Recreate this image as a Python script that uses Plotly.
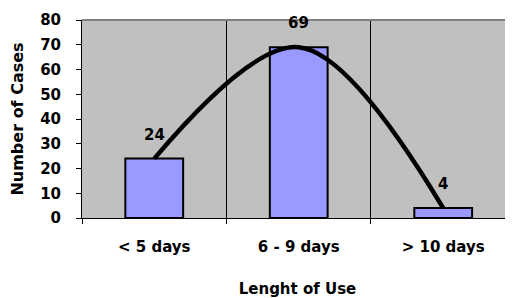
import plotly.graph_objects as go

categories = ["< 5 days", "6 - 9 days", "> 10 days"]
cases = [24, 69, 4]
y_ticks = [0, 10, 20, 30, 40, 50, 60, 70, 80]

FONT = "DejaVu Sans"
FS = 15

fig = go.Figure()
fig.add_trace(go.Bar(
    x=categories, y=cases, width=0.4,
    marker=dict(color="#9999FF", line=dict(color="black", width=2)),
    hoverinfo="skip",
))
fig.add_trace(go.Scatter(
    x=categories, y=cases, mode="lines",
    line=dict(color="black", width=4.5, shape="spline", smoothing=1.0),
))
for c, v in zip(categories, cases):
    fig.add_annotation(x=c, y=v, text="<b>%d</b>" % v, showarrow=False, yshift=24,
                       font=dict(family=FONT, size=FS, color="black"))

fig.add_shape(type="line", xref="paper", yref="paper", x0=0, x1=1, y0=1, y1=1,
              line=dict(color="#808080", width=2))

fig.update_layout(
    width=505, height=290,
    margin=dict(l=74, r=0, t=12, b=80),
    plot_bgcolor="#C0C0C0", paper_bgcolor="white",
    showlegend=False,
    font=dict(family=FONT, size=FS, color="black", weight="bold"),
    xaxis=dict(
        range=[-0.5, 2.483], tickson="boundaries", showgrid=True,
        gridcolor="black", gridwidth=1, ticks="outside", ticklen=5,
        tickcolor="black", showline=True, linecolor="black", linewidth=1,
        tickfont=dict(family=FONT, size=FS, color="black", weight="bold"),
        ticklabelstandoff=15, automargin=False,
        title=dict(text="<b>Lenght of Use</b>", standoff=32,
                   font=dict(family=FONT, size=FS)),
    ),
    yaxis=dict(
        range=[0, 80], tickvals=y_ticks, showgrid=False, zeroline=False,
        ticks="outside", ticklen=5, tickcolor="black", showline=True,
        linecolor="black", linewidth=1, automargin=False,
        tickfont=dict(family=FONT, size=FS, color="black", weight="bold"),
        ticklabelstandoff=12,
        title=dict(text="<b>Number of Cases</b>", standoff=14,
                   font=dict(family=FONT, size=16)),
    ),
)
fig.write_html("out.html")
